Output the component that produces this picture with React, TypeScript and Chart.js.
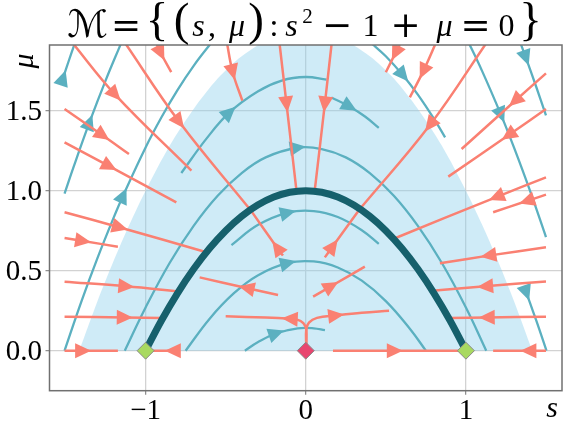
import React, { useEffect, useRef } from "react";
import { Chart, registerables } from "chart.js";

Chart.register(...registerables);

type Pt = [number, number];

// ---------- axes ----------
const xRange: Pt = [-1.6, 1.6];
const yRange: Pt = [-0.25, 1.91];
const xTicks = [-1, 0, 1];
const xTickLabels = ["\u22121", "0", "1"];
const yTicks = [0, 0.5, 1.0, 1.5];
const yTickLabels = ["0.0", "0.5", "1.0", "1.5"];

// ---------- shaded region (0 <= mu <= 2 - s^2) ----------
const shadeRegion: Pt[] = [
  [-1.414, 0], [-1.3, 0.31], [-1.2, 0.56], [-1.1, 0.79], [-1.0, 1.0], [-0.85, 1.28],
  [-0.7, 1.51], [-0.55, 1.7], [-0.4, 1.84], [-0.2, 1.96], [0, 2.0], [0.2, 1.96],
  [0.4, 1.84], [0.55, 1.7], [0.7, 1.51], [0.85, 1.28], [1.0, 1.0], [1.1, 0.79],
  [1.2, 0.56], [1.3, 0.31], [1.414, 0],
];

// ---------- critical manifold M ----------
const manifoldM: Pt[] = [
  [-1, 0], [-0.9, 0.19], [-0.8, 0.36], [-0.7, 0.51], [-0.6, 0.64], [-0.5, 0.75],
  [-0.4, 0.84], [-0.3, 0.91], [-0.2, 0.96], [-0.1, 0.99], [0, 1], [0.1, 0.99],
  [0.2, 0.96], [0.3, 0.91], [0.4, 0.84], [0.5, 0.75], [0.6, 0.64], [0.7, 0.51],
  [0.8, 0.36], [0.9, 0.19], [1, 0],
];

// ---------- equilibria ----------
const stableEq: Pt[] = [[-1, 0], [1, 0]];
const unstableEq: Pt[] = [[0, 0]];

// ---------- slow (teal) trajectories, in flow order ----------
const tealA: Pt[] = [[-0.777, 1.11], [-0.62, 1.325], [-0.475, 1.49], [-0.3, 1.62], [-0.15, 1.688], [0, 1.71], [0.13, 1.693]];
const tealB: Pt[] = [[0.16, 1.582], [0.275, 1.524], [0.37, 1.463], [0.456, 1.392]];
const tealC: Pt[] = [[-1.13, 0], [-1.0, 0.27], [-0.85, 0.548], [-0.7, 0.78], [-0.55, 0.968], [-0.4, 1.11], [-0.25, 1.208], [-0.05, 1.268], [0.1, 1.26], [0.25, 1.208], [0.4, 1.11], [0.55, 0.968], [0.7, 0.78], [0.85, 0.548], [1.0, 0.27], [1.127, 0]];
const tealD: Pt[] = [[-0.464, 0.66], [-0.3, 0.785], [-0.11, 0.863], [0.05, 0.8725], [0.2, 0.835], [0.35, 0.7525], [0.456, 0.667]];
const tealE: Pt[] = [[-0.75, 0], [-0.6, 0.2], [-0.45, 0.3575], [-0.3, 0.47], [-0.11, 0.548], [0.05, 0.5575], [0.2, 0.52], [0.35, 0.4375], [0.5, 0.31], [0.65, 0.1375], [0.75, 0]];
const tealF: Pt[] = [[-0.38, 0], [-0.3, 0.0525], [-0.183, 0.109], [-0.05, 0.14], [0.05, 0.14], [0.12, 0.128]];
const tealG: Pt[] = [[-1.506, 0], [-1.4, 0.31], [-1.3, 0.58], [-1.2, 0.83], [-1.14, 0.97], [-1.0, 1.27], [-0.9, 1.46], [-0.8, 1.63], [-0.7, 1.78], [-0.6, 1.91], [-0.55, 1.967]];
const tealH: Pt[] = [[-1.506, 0.982], [-1.45, 1.147], [-1.35, 1.4275], [-1.25, 1.6875], [-1.163, 1.897], [-1.14, 1.95]];
const tealI: Pt[] = [[-1.515, 1.705], [-1.48, 1.81], [-1.44, 1.926], [-1.42, 1.984]];
const tealJ: Pt[] = [[0.4, 1.93], [0.5, 1.84], [0.608, 1.72], [0.7, 1.6], [0.8, 1.45], [0.87, 1.333]];
const tealK: Pt[] = [[1.0, 1.96], [1.1, 1.75], [1.22, 1.472], [1.3, 1.27], [1.4, 1.0], [1.5, 0.71]];
const tealL: Pt[] = [[1.31, 2.004], [1.375, 1.829], [1.44, 1.646], [1.5, 1.47]];
const tealM: Pt[] = [[1.378, 0.36], [1.42, 0.243], [1.46, 0.128], [1.503, 0]];
const tealLines = [tealA, tealB, tealC, tealD, tealE, tealF, tealG, tealH, tealI, tealJ, tealK, tealL, tealM];
const tealArrowIdx = [2, 1, 7, 2, 4, 2, 4, 2, 0, 2, 2, 1, 0];

// ---------- fast (salmon) fibres, in flow order ----------
const fibA: Pt[] = [[-1.47, 1.94], [-1.19, 1.6], [-0.714, 1.125]];
const fibB: Pt[] = [[-1.14, 1.94], [-0.79, 1.43], [-0.35, 0.885]];
const fibC: Pt[] = [[-0.94, 1.94], [-0.905, 1.86], [-0.84, 1.74]];
const fibD: Pt[] = [[-0.495, 1.94], [-0.456, 1.74], [-0.396, 1.5625]];
const fibE: Pt[] = [[-0.166, 1.94], [-0.12, 1.54], [-0.058, 1.0]];
const fibF: Pt[] = [[0.164, 1.94], [0.119, 1.54], [0.056, 1.0]];
const fibG: Pt[] = [[-1.506, 1.51], [-1.267, 1.345], [-1.104, 1.229]];
const fibH: Pt[] = [[-1.506, 1.302], [-1.225, 1.152], [-0.808, 0.927]];
const fibI: Pt[] = [[-1.506, 0.865], [-1.16, 0.77], [-0.62, 0.615]];
const fibJ: Pt[] = [[-1.506, 0.704], [-1.39, 0.685], [-1.173, 0.65]];
const fibK: Pt[] = [[-1.506, 0.431], [-1.12, 0.402], [-0.798, 0.37]];
const fibL: Pt[] = [[-1.506, 0.2125], [-1.13, 0.208], [-0.896, 0.204]];
const fibM: Pt[] = [[-1.506, 0], [-1.39, 0], [-1.173, 0]];
const fibN: Pt[] = [[-0.79, 0], [-0.83, 0], [-0.97, 0]];
const fibO: Pt[] = [[-0.173, 0.348], [-0.37, 0.392], [-0.6625, 0.458]];
const fibP: Pt[] = [[0.003, 0.03], [0.003, 0.13], [-0.015, 0.172], [-0.06, 0.196], [-0.1, 0.2], [-0.25, 0.207], [-0.5, 0.215]];
const fibQ: Pt[] = [[0.003, 0.03], [0.003, 0.13], [0.02, 0.175], [0.07, 0.205], [0.19, 0.22], [0.35, 0.237], [0.52, 0.25]];
const fibR: Pt[] = [[0.046, 0.3375], [0.16, 0.404], [0.369, 0.525]];
const fibS: Pt[] = [[0.119, 0.583], [0.17, 0.654], [0.3375, 0.885]];
const fibT: Pt[] = [[-0.142, 0.594], [-0.18, 0.645], [-0.345, 0.88]];
const fibU: Pt[] = [[1.14, 1.94], [0.775, 1.41], [0.3375, 0.885]];
const fibV: Pt[] = [[0.6, 1.94], [0.56, 1.86], [0.5, 1.74]];
const fibW: Pt[] = [[0.82, 1.94], [0.733, 1.745], [0.65, 1.583]];
const fibX: Pt[] = [[1.5, 1.733], [1.306, 1.56], [0.973, 1.26]];
const fibY: Pt[] = [[1.5, 1.51], [1.265, 1.346], [0.89, 1.0875]];
const fibZ: Pt[] = [[1.5, 1.083], [1.19, 0.96], [0.546, 0.698]];
const fib27: Pt[] = [[1.5, 0.975], [1.38, 0.935], [1.17, 0.865]];
const fib28: Pt[] = [[1.5, 0.646], [1.14, 0.594], [0.8375, 0.546]];
const fib29: Pt[] = [[1.5, 0.433], [1.12, 0.402], [0.79, 0.375]];
const fib30: Pt[] = [[1.5, 0.2125], [1.13, 0.208], [0.896, 0.204]];
const fib31: Pt[] = [[1.5, 0], [1.39, 0], [1.17, 0]];
const fib32: Pt[] = [[0.17, 0], [0.556, 0], [0.9625, 0]];
const salmonLines = [
  fibA, fibB, fibC, fibD, fibE, fibF, fibG, fibH, fibI, fibJ, fibK, fibL, fibM, fibN, fibO, fibP,
  fibQ, fibR, fibS, fibT, fibU, fibV, fibW, fibX, fibY, fibZ, fib27, fib28, fib29, fib30, fib31, fib32,
];
const salmonArrowIdx = [1, 1, 1, 1, 1, 1, 1, 1, 1, 1, 1, 1, 1, 1, 1, 4, 4, 1, 1, 1, 1, 1, 1, 1, 1, 1, 1, 1, 1, 1, 1, 1];

// ---------- styles ----------
const TEAL = "#5bb0c0";
const DARK = "#16606c";
const SALMON = "#fa8072";
const SHADE = "rgba(140,208,235,0.42)";
const GREEN = "#a8d960";
const PINK = "#e8466f";
const SERIF = '"Liberation Serif", "DejaVu Serif", serif';
const OPS = '"DejaVu Serif", "Liberation Serif", serif';

// title pieces: [text, centerX, baseline, font]
const titleTokens: [string, number, number, string][] = [
  ["\u2133", 87.5, 37, `italic 38px "DejaVu Serif", "DejaVu Sans", serif`],
  ["=", 126, 37, `36px ${OPS}`],
  ["{", 157, 35, `47px ${SERIF}`],
  ["(", 181.5, 35, `47px ${SERIF}`],
  ["s", 198.5, 36, `italic 32px ${SERIF}`],
  [",", 212, 36, `32px ${SERIF}`],
  ["\u03bc", 237, 36, `italic 32px ${SERIF}`],
  [")", 256, 35, `47px ${SERIF}`],
  [":", 274, 36, `32px ${SERIF}`],
  ["s", 291.5, 36, `italic 32px ${SERIF}`],
  ["2", 307.5, 23, `21px ${SERIF}`],
  ["\u2212", 337, 37, `36px ${OPS}`],
  ["1", 370.5, 36, `32px ${SERIF}`],
  ["+", 405.5, 37, `36px ${OPS}`],
  ["\u03bc", 444.5, 36, `italic 32px ${SERIF}`],
  ["=", 475.5, 37, `36px ${OPS}`],
  ["0", 506.5, 36, `32px ${SERIF}`],
  ["}", 530.5, 35, `47px ${SERIF}`],
];

const arrowPlugin = {
  id: "flowArrows",
  afterDatasetDraw(chart: any, args: any) {
    const ds: any = chart.data.datasets[args.index];
    if (ds.arrowAt == null) return;
    const pts = args.meta.data;
    const n = pts.length;
    const i = ds.arrowAt;
    const p = pts[i];
    const a = pts[Math.max(i - 1, 0)];
    const b = pts[Math.min(i + 1, n - 1)];
    let dx = b.x - a.x;
    let dy = b.y - a.y;
    const len = Math.hypot(dx, dy) || 1;
    dx /= len;
    dy /= len;
    const L = 16;
    const W = 7.5;
    const ctx = chart.ctx;
    const ca = chart.chartArea;
    ctx.save();
    ctx.beginPath();
    ctx.rect(ca.left, ca.top, ca.right - ca.left, ca.bottom - ca.top);
    ctx.clip();
    const tx = p.x + dx * L * 0.5;
    const ty = p.y + dy * L * 0.5;
    const bx = p.x - dx * L * 0.5;
    const by = p.y - dy * L * 0.5;
    ctx.beginPath();
    ctx.moveTo(tx, ty);
    ctx.lineTo(bx - dy * W, by + dx * W);
    ctx.lineTo(bx + dy * W, by - dx * W);
    ctx.closePath();
    ctx.fillStyle = ds.borderColor;
    ctx.fill();
    ctx.restore();
  },
};

const decorPlugin = {
  id: "decor",
  afterDraw(chart: any) {
    const ctx = chart.ctx;
    const ca = chart.chartArea;
    const xs = chart.scales.x;
    const ys = chart.scales.y;
    ctx.save();
    // frame
    ctx.strokeStyle = "#707070";
    ctx.lineWidth = 1.5;
    ctx.strokeRect(ca.left, ca.top, ca.right - ca.left, ca.bottom - ca.top);
    ctx.fillStyle = "#000";
    // tick labels
    ctx.font = `29px ${SERIF}`;
    ctx.textAlign = "center";
    ctx.textBaseline = "alphabetic";
    xTicks.forEach((v, i) => {
      ctx.fillText(xTickLabels[i], xs.getPixelForValue(v), 418.7);
    });
    ctx.textAlign = "right";
    yTicks.forEach((v, i) => {
      ctx.fillText(yTickLabels[i], 42, ys.getPixelForValue(v) + 9.5);
    });
    // axis labels
    ctx.font = `italic 30px ${SERIF}`;
    ctx.textAlign = "center";
    ctx.fillText("s", 552, 416.5);
    ctx.save();
    ctx.translate(33, 61);
    ctx.rotate(-Math.PI / 2);
    ctx.fillText("\u03bc", 0, 0);
    ctx.restore();
    // title
    titleTokens.forEach(([t, cx, by, f]) => {
      ctx.font = f;
      ctx.textAlign = "center";
      ctx.fillText(t, cx, by);
    });
    ctx.restore();
  },
};

export default function App() {
  const ref = useRef<HTMLCanvasElement>(null);
  useEffect(() => {
    if (!ref.current) return;
    const toXY = (pts: Pt[]) => pts.map(([x, y]) => ({ x, y }));
    const datasets: any[] = [];
    datasets.push({
      data: toXY(shadeRegion), showLine: true, fill: "origin", backgroundColor: SHADE,
      borderWidth: 0, pointRadius: 0, tension: 0.3, order: 100,
    });
    tealLines.forEach((pts, i) =>
      datasets.push({
        data: toXY(pts), showLine: true, fill: false, borderColor: TEAL, borderWidth: 2.3,
        pointRadius: 0, tension: 0.4, order: 60, arrowAt: tealArrowIdx[i],
      })
    );
    salmonLines.forEach((pts, i) =>
      datasets.push({
        data: toXY(pts), showLine: true, fill: false, borderColor: SALMON, borderWidth: 2.5,
        pointRadius: 0, tension: 0.4, order: 50, arrowAt: salmonArrowIdx[i],
      })
    );
    datasets.push({
      data: toXY(manifoldM), showLine: true, fill: false, borderColor: DARK, borderWidth: 7,
      borderCapStyle: "round", pointRadius: 0, tension: 0.4, order: 40,
    });
    datasets.push({
      data: toXY(stableEq), showLine: false, pointStyle: "rectRot", pointRadius: 8.5,
      backgroundColor: GREEN, borderColor: "#8a8a8a", borderWidth: 1, order: 1,
    });
    datasets.push({
      data: toXY(unstableEq), showLine: false, pointStyle: "rectRot", pointRadius: 8.5,
      backgroundColor: PINK, borderColor: "#8a8a8a", borderWidth: 1, order: 0,
    });

    const chart = new Chart(ref.current, {
      type: "scatter",
      data: { datasets },
      plugins: [arrowPlugin, decorPlugin],
      options: {
        animation: false,
        responsive: false,
        events: [],
        layout: { padding: { top: 45, right: 24, left: 0, bottom: 0 } },
        plugins: { legend: { display: false }, tooltip: { enabled: false }, title: { display: false } },
        scales: {
          x: {
            type: "linear", min: xRange[0], max: xRange[1],
            afterBuildTicks: (s: any) => { s.ticks = xTicks.map((v) => ({ value: v })); },
            afterFit: (s: any) => { s.height = 47.3; },
            ticks: { display: false },
            border: { display: false },
            grid: { color: "#d2d2d2", lineWidth: 1.3, tickLength: 4, tickColor: "#8a8a8a", tickWidth: 1.2 },
          },
          y: {
            type: "linear", min: yRange[0], max: yRange[1],
            afterBuildTicks: (s: any) => { s.ticks = yTicks.map((v) => ({ value: v })); },
            afterFit: (s: any) => { s.width = 49.5; },
            ticks: { display: false },
            border: { display: false },
            grid: { color: "#d2d2d2", lineWidth: 1.3, tickLength: 4, tickColor: "#8a8a8a", tickWidth: 1.2 },
          },
        },
      } as any,
    });
    return () => chart.destroy();
  }, []);

  return (
    <div style={{ position: "fixed", left: 0, top: 0, width: 586, height: 438, background: "#fff" }}>
      <canvas ref={ref} width={586} height={438} />
    </div>
  );
}
